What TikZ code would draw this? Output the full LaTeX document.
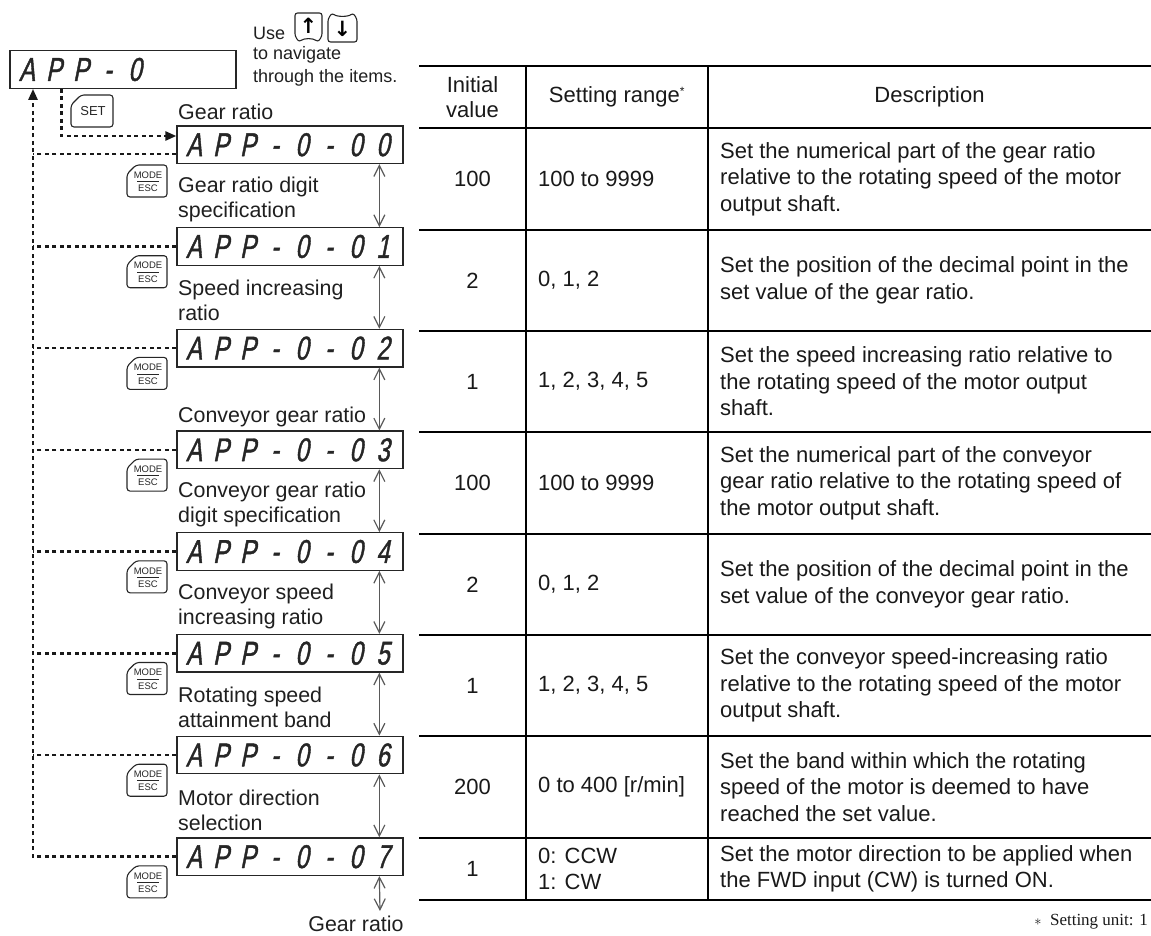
\documentclass[tikz,border=0pt]{standalone}
\usepackage{fontspec}
\setmainfont{Liberation Sans}
\newfontfamily\serifx{Liberation Serif}
\newfontfamily\dvs{DejaVu Sans}
\newfontfamily\segf[FakeStretch=0.72,FakeSlant=0.2,FakeBold=1.2]{Liberation Sans}
\usetikzlibrary{arrows.meta,calc}
\newcommand\sg[1]{\makebox[27pt]{#1}}
\newcommand\modekey[2]{%
  \draw[keyline] (127,#2+9) -- (136,#2) -- (167,#2) -- (167,#2+32) -- (127,#2+32) -- cycle;
  \node[keytxt] (#1m) at (148,#2+10) {MODE};
  \draw[line width=0.8pt,black!85] (137,#2+16.5) -- (159,#2+16.5);
  \node[keytxt] (#1e) at (148,#2+23.5) {ESC};
}
\begin{document}
\begin{tikzpicture}[x=1pt,y=-1pt,
  disp/.style={draw=black!85, line width=1.3pt, rectangle, inner xsep=3.5pt, inner ysep=0pt,
    text width=219pt, minimum height=37.5pt, align=left,
    font=\segf\fontsize{33}{33}\selectfont, text=black!85},
  lbl/.style={anchor=west, align=left, inner sep=0pt, font=\fontsize{21.4}{25}\selectfont, text=black!88},
  cell/.style={inner sep=0pt, font=\fontsize{22}{26.5}\selectfont, text=black!90},
  keytxt/.style={inner sep=0pt, font=\fontsize{9.5}{9.5}\selectfont, text=black!85},
  dotline/.style={line width=2.5pt, dash pattern=on 4pt off 3.5pt, draw=black!90},
  dbl/.style={draw=black!65, line width=1.2pt,
    {Straight Barb[length=11pt,width=11pt]}-{Straight Barb[length=11pt,width=11pt]}},
  keyline/.style={draw=black!85, line width=1.1pt, rounded corners=3pt},
  tabrule/.style={line width=1.8pt, draw=black}
]
\useasboundingbox (0,0) rectangle (1151,936);

% top display
\node[disp] (top) at (123,69.5) {\sg{A}\sg{P}\sg{P}\sg{-}\sg{0}};

% navigation hint
\node[anchor=west, inner sep=0pt, font=\fontsize{18}{22}\selectfont, text=black!88] (use) at (253,33) {Use};
\draw[keyline, rounded corners=2.5pt] (295,36) -- (295,13) -- (322,13) -- (322,36) -- (318,42)
   .. controls (313,38) and (304,38) .. (299,42) -- cycle;
\node[inner sep=0pt, font=\dvs\fontsize{21}{21}\selectfont\bfseries] (upk) at (308.5,26) {↑};
\draw[keyline, rounded corners=2.5pt] (328,42) -- (328,19) -- (332,13)
   .. controls (337,17) and (348,17) .. (353,13) -- (357,19) -- (357,42) -- cycle;
\node[inner sep=0pt, font=\dvs\fontsize{21}{21}\selectfont\bfseries] (dnk) at (342.5,29) {↓};
\node[anchor=west, inner sep=0pt, align=left, font=\fontsize{18}{22.5}\selectfont, text=black!88] (nav) at (253,66.5) {to navigate\\through the items.};

% SET key
\draw[keyline] (71,105) -- (81,95) -- (113,95) -- (113,127) -- (71,127) -- cycle;
\node[inner sep=0pt, font=\fontsize{13}{13}\selectfont, text=black!85] (setk) at (93,111.5) {SET};

% parameter displays
\foreach \i in {0,...,7}{
  \node[disp] (b\i) at (290,{144.75+101.7*\i}) {\sg{A}\sg{P}\sg{P}\sg{-}\sg{0}\sg{-}\sg{0}\sg{\i}};
}

% MODE/ESC keys
\modekey{k0}{165}
\foreach \i in {1,...,7}{
  \pgfmathsetmacro\kt{154+101.7*\i}
  \modekey{k\i}{\kt}
}

% labels
\node[lbl] (l0) at (178,112) {Gear ratio};
\node[lbl] (l1) at (178,199.5) {Gear ratio digit\\specification};
\node[lbl] (l2) at (178,300.5) {Speed increasing\\ratio};
\node[lbl] (l3) at (178,417) {Conveyor gear ratio};
\node[lbl] (l4) at (178,504.5) {Conveyor gear ratio\\digit specification};
\node[lbl] (l5) at (178,606) {Conveyor speed\\increasing ratio};
\node[lbl] (l6) at (178,707.5) {Rotating speed\\attainment band};
\node[lbl] (l7) at (178,810.5) {Motor direction\\selection};

% dotted connectors
\coordinate (lv) at (33,0);
\draw[dotline,-{Triangle[length=11pt,width=9pt]}] ($(top.south west)+(52,0)$) |- ($(b0.west)+(0,-8.75)$);
\draw[dotline] ($(b0.west)+(0,9.25)$) -- (lv |- {$(b0.west)+(0,9.25)$});
\foreach \i in {1,...,6}{
  \draw[dotline] (b\i.west) -- (lv |- b\i.west);
}
\draw[dotline,-{Triangle[length=11pt,width=9pt]}] (b7.west) -| (lv |- top.south);

% up/down arrows
\foreach \i/\j in {0/1,1/2,2/3,3/4,4/5,5/6,6/7}{
  \draw[dbl] ($(b\i.south west)+(203,0)$) -- ($(b\j.north west)+(203,0)$);
}
\coordinate (gend) at (380,911);
\draw[dbl] ($(b7.south west)+(203,0)$) -- (gend);
\node[lbl, anchor=center] (l8) at (356,924) {Gear ratio};

% table rules
\foreach \yy in {66,128,230,331,432,534,635,736,838,900}{
  \draw[tabrule] (419,\yy) -- (1151,\yy);
}
\draw[tabrule] (526,66) -- (526,900);
\draw[tabrule] (708,66) -- (708,900);

% header
\node[cell, align=center, font=\fontsize{22}{25}\selectfont] (h1) at (472.5,97) {Initial\\value};
\node[cell] (h2) at (617,97) {Setting range\textsuperscript{\fontsize{12}{12}\selectfont *}};
\node[cell] (h3) at (929.5,97) {Description};

% rows
\node[cell] (r1a) at (472.5,179) {100};
\node[cell,anchor=west] (r1b) at (538,179) {100 to 9999};
\node[cell,anchor=west,align=left] (r1c) at (720,179) {Set the numerical part of the gear ratio\\relative to the rotating speed of the motor\\output shaft.};

\node[cell] (r2a) at (472.5,280.5) {2};
\node[cell,anchor=west] (r2b) at (538,280.5) {0, 1, 2};
\node[cell,anchor=west,align=left] (r2c) at (720,280.5) {Set the position of the decimal point in the\\set value of the gear ratio.};

\node[cell] (r3a) at (472.5,381.5) {1};
\node[cell,anchor=west] (r3b) at (538,381.5) {1, 2, 3, 4, 5};
\node[cell,anchor=west,align=left] (r3c) at (720,381.5) {Set the speed increasing ratio relative to\\the rotating speed of the motor output\\shaft.};

\node[cell] (r4a) at (472.5,483) {100};
\node[cell,anchor=west] (r4b) at (538,483) {100 to 9999};
\node[cell,anchor=west,align=left] (r4c) at (720,483) {Set the numerical part of the conveyor\\gear ratio relative to the rotating speed of\\the motor output shaft.};

\node[cell] (r5a) at (472.5,584.5) {2};
\node[cell,anchor=west] (r5b) at (538,584.5) {0, 1, 2};
\node[cell,anchor=west,align=left] (r5c) at (720,584.5) {Set the position of the decimal point in the\\set value of the conveyor gear ratio.};

\node[cell] (r6a) at (472.5,685.5) {1};
\node[cell,anchor=west] (r6b) at (538,685.5) {1, 2, 3, 4, 5};
\node[cell,anchor=west,align=left] (r6c) at (720,685.5) {Set the conveyor speed-increasing ratio\\relative to the rotating speed of the motor\\output shaft.};

\node[cell] (r7a) at (472.5,787) {200};
\node[cell,anchor=west] (r7b) at (538,787) {0 to 400 [r/min]};
\node[cell,anchor=west,align=left] (r7c) at (720,787) {Set the band within which the rotating\\speed of the motor is deemed to have\\reached the set value.};

\node[cell] (r8a) at (472.5,869) {1};
\node[cell,anchor=west,align=left] (r8b) at (538,869) {0: CCW\\1: CW};
\node[cell,anchor=west,align=left] (r8c) at (720,869) {Set the motor direction to be applied when\\the FWD input (CW) is turned ON.};

% footnote
\node[anchor=east, inner sep=0pt, font=\serifx\fontsize{17}{17}\selectfont, text=black!90] (fn) at (1148,922) {{\Large$\ast$}\ \ Setting unit: 1};
\end{tikzpicture}
\end{document}
